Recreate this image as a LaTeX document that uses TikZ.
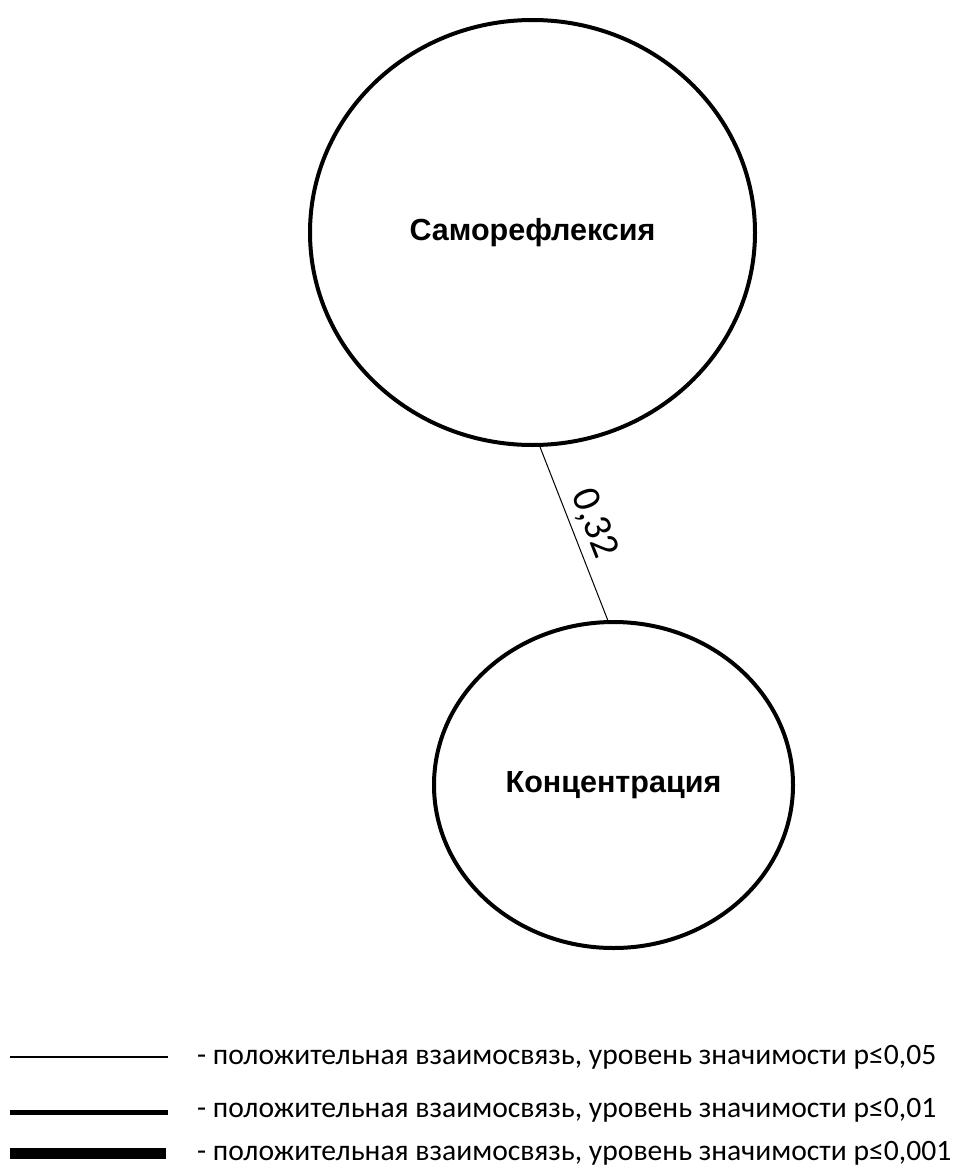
\documentclass[tikz,border=0pt]{standalone}
\usepackage{fontspec}
\newfontfamily\nodefont{Liberation Sans}
\newfontfamily\legfont{Carlito}
\usetikzlibrary{shapes.geometric}

\begin{document}
\begin{tikzpicture}[
  x=1pt, y=-1pt,
  circ/.style={ellipse, draw, line width=4pt, inner sep=0pt,
    font=\nodefont\bfseries\fontsize{30.5}{34}\selectfont},
  lab/.style={sloped, above, inner sep=6pt, font=\legfont\fontsize{40}{44}\selectfont},
  leg/.style={anchor=west, inner sep=0pt, font=\legfont\fontsize{29.6}{34}\selectfont}
]
\useasboundingbox (0,0) rectangle (968,1169);

% Nodes
\node (sam) [circ, minimum width=445pt, minimum height=425pt] at (532.5,232.5) {Саморефлексия};
\node (kon) [circ, minimum width=359pt, minimum height=326pt] at (613.5,785) {Концентрация};

% Link
\draw[line width=1pt] (sam.-88) -- (kon.92) node[lab, pos=0.49] {0,32};

% Legend
\coordinate (a1) at (10,1057);  \coordinate (b1) at (168,1057);
\coordinate (a2) at (10,1112);  \coordinate (b2) at (168,1112);
\coordinate (a3) at (10,1153);  \coordinate (b3) at (166,1153);
\draw[line width=2pt] (a1) -- (b1);
\draw[line width=5pt] (a2) -- (b2);
\draw[line width=11pt] (a3) -- (b3);
\node (t1) [leg] at (197,1057) {- положительная взаимосвязь, уровень значимости р≤0,05};
\node (t2) [leg] at (197,1110) {- положительная взаимосвязь, уровень значимости р≤0,01};
\node (t3) [leg] at (197,1153) {- положительная взаимосвязь, уровень значимости р≤0,001};

\end{tikzpicture}
\end{document}
